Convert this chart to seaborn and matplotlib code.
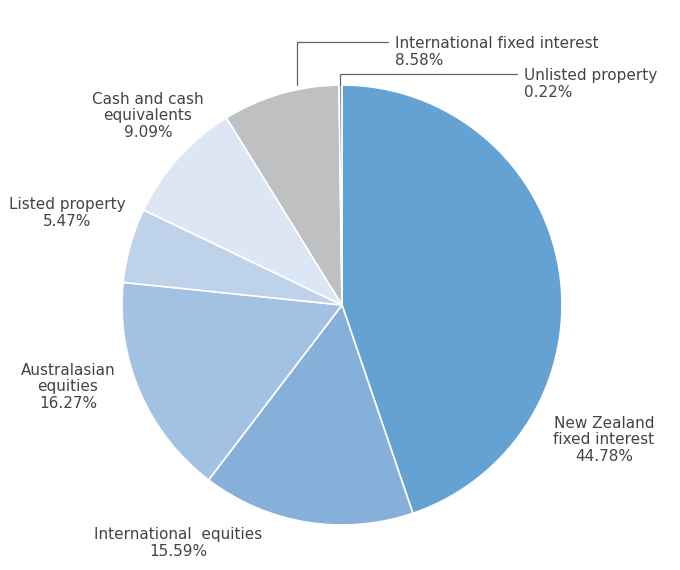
import matplotlib
matplotlib.use("Agg")
import matplotlib.pyplot as plt
import seaborn as sns

categories = ["New Zealand\nfixed interest", "International  equities", "Australasian\nequities",
              "Listed property", "Cash and cash\nequivalents", "International fixed interest",
              "Unlisted property"]
values = [44.78, 15.59, 16.27, 5.47, 9.09, 8.58, 0.22]
colors = ["#64a2d4", "#86b0da", "#a3c1e3", "#bed2ea", "#dce6f4", "#bfc0c2", "#9a9a9a"]

sns.set_theme(style="white")
plt.rcParams['font.family'] = ['DejaVu Sans']
fig = plt.figure(figsize=(6.8, 5.7), dpi=100)
ax = fig.add_axes([0, 0, 1, 1])
R = 220.0
def d(px, py):
    return ((px - 342) / R, (305 - py) / R)
ax.pie(values, colors=sns.color_palette(colors), startangle=90, counterclock=False,
       radius=1, center=(0, 0), wedgeprops=dict(edgecolor="white", linewidth=1.2))
ax.set_xlim(-342 / R, 338 / R)
ax.set_ylim(-(570 - 305) / R, 305 / R)
ax.set_aspect("auto")
ax.axis("off")

tc = "#444444"
fs = 11
def lab(i, px, py, ha="center"):
    x, y = d(px, py)
    ax.text(x, y, f"{categories[i]}\n{values[i]:.2f}%", ha=ha, va="center",
            fontsize=fs, color=tc, linespacing=1.15)

lab(0, 604, 440)
lab(1, 178, 543)
lab(2, 68, 387)
lab(3, 67, 213)
lab(4, 148, 116)
lab(5, 395, 52, ha="left")
lab(6, 524, 84, ha="left")

for pts in [[(297, 85), (297, 42), (388, 42)], [(340, 85), (340, 74), (517, 74)]]:
    xs, ys = zip(*[d(*p) for p in pts])
    ax.plot(xs, ys, color="#666666", lw=0.9)

fig.savefig("out.png", dpi=100)
